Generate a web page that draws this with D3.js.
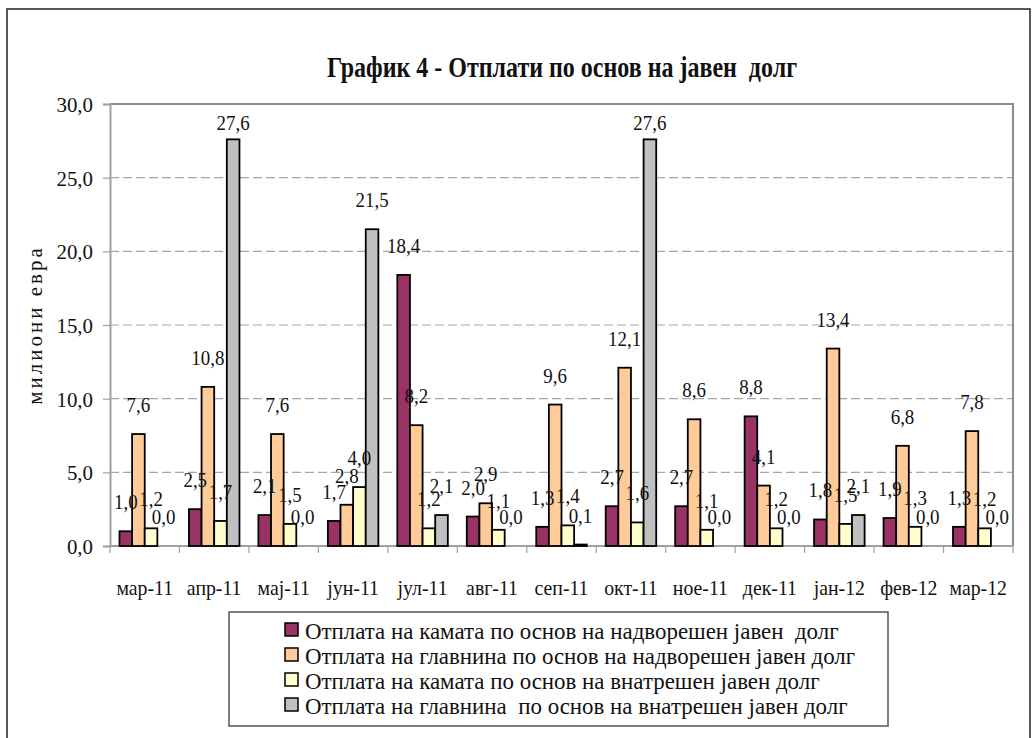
<!DOCTYPE html>
<html>
<head>
<meta charset="utf-8">
<script src="https://cdn.jsdelivr.net/npm/d3@7"></script>
<style>
  body { margin: 0; background: #fff; }
  text { font-family: "Liberation Serif", "Times New Roman", serif; fill: #111; white-space: pre; }
</style>
</head>
<body>
<div id="chart"></div>
<script>
// Data
const months = ["мар-11", "апр-11", "мај-11", "јун-11", "јул-11", "авг-11", "сеп-11",
  "окт-11", "ное-11", "дек-11", "јан-12", "фев-12", "мар-12"];
const seriesNames = [
  "Отплата на камата по основ на надворешен јавен  долг",
  "Отплата на главнина по основ на надворешен јавен долг",
  "Отплата на камата по основ на внатрешен јавен долг",
  "Отплата на главнина  по основ на внатрешен јавен долг"
];
const kamataNadv = [1.0, 2.5, 2.1, 1.7, 18.4, 2.0, 1.3, 2.7, 2.7, 8.8, 1.8, 1.9, 1.3];
const glavninaNadv = [7.6, 10.8, 7.6, 2.8, 8.2, 2.9, 9.6, 12.1, 8.6, 4.1, 13.4, 6.8, 7.8];
const kamataVnat = [1.2, 1.7, 1.5, 4.0, 1.2, 1.1, 1.4, 1.6, 1.1, 1.2, 1.5, 1.3, 1.2];
const glavninaVnat = [0.0, 27.6, 0.0, 21.5, 2.1, 0.0, 0.1, 27.6, 0.0, 0.0, 2.1, 0.0, 0.0];
const yTicks = [0, 5, 10, 15, 20, 25, 30];
const colors = ["#993366", "#FFCC99", "#FFFFCC", "#C0C0C0"];

const allSeries = [kamataNadv, glavninaNadv, kamataVnat, glavninaVnat];
const W = 1035, H = 738;
const plot = { left: 110, right: 1013, top: 104, bottom: 546 };

const svg = d3.select("#chart").append("svg")
  .attr("width", W).attr("height", H);

// condensed-looking text: scale horizontally around the anchor point
function addText(parent, x, y, str, size, sx, anchor, weight) {
  const g = parent.append("g").attr("transform", `translate(${x},${y}) scale(${sx},1)`);
  g.append("text")
    .attr("text-anchor", anchor || "middle")
    .style("font-size", size + "px")
    .style("font-weight", weight || "normal")
    .text(str);
  return g;
}

// outer chart border
svg.append("rect")
  .attr("x", 7).attr("y", 9).attr("width", 1023).attr("height", 760)
  .attr("fill", "none").attr("stroke", "#222").attr("stroke-width", 1.5);

// Scales
const x0 = d3.scaleBand().domain(months).range([plot.left, plot.right]);
const bw = x0.bandwidth() / 5.5;
const x1 = d3.scaleBand().domain(d3.range(4))
  .range([bw * 0.75, bw * 4.75]);
const y = d3.scaleLinear().domain([0, 30]).range([plot.bottom, plot.top]);

const fmt = v => d3.format(".1f")(v).replace(".", ",");

// gridlines
svg.append("g")
  .selectAll("line")
  .data(yTicks.filter(t => t > 0 && t < 30))
  .join("line")
  .attr("x1", plot.left).attr("x2", plot.right)
  .attr("y1", d => y(d)).attr("y2", d => y(d))
  .attr("stroke", "#a6a6a6").attr("stroke-width", 1.2)
  .attr("stroke-dasharray", "9,4");

// plot border top / right
svg.append("path")
  .attr("d", `M${plot.left},${plot.top}H${plot.right}V${plot.bottom}`)
  .attr("fill", "none").attr("stroke", "#8c8c8c").attr("stroke-width", 2);

// Y axis
const yAxis = svg.append("g")
  .attr("transform", `translate(${plot.left},0)`)
  .call(d3.axisLeft(y).tickValues(yTicks).tickSize(7).tickFormat(""));
yAxis.select(".domain").attr("stroke", "#a0a0a0").attr("stroke-width", 2);
yAxis.selectAll(".tick line").attr("stroke", "#a0a0a0").attr("stroke-width", 1.2);
yTicks.forEach(t => addText(svg, 93, y(t) + 8, fmt(t), 22, 0.95, "end"));

// X axis (ticks at category boundaries)
const xAxis = svg.append("g")
  .attr("transform", `translate(0,${plot.bottom})`);
xAxis.append("line")
  .attr("x1", plot.left).attr("x2", plot.right)
  .attr("stroke", "#a0a0a0").attr("stroke-width", 2);
xAxis.selectAll(".tk")
  .data(months.concat(["end"]))
  .join("line")
  .attr("class", "tk")
  .attr("x1", (d, i) => plot.left + i * x0.step())
  .attr("x2", (d, i) => plot.left + i * x0.step())
  .attr("y1", 0).attr("y2", 7)
  .attr("stroke", "#a0a0a0").attr("stroke-width", 1.2);
months.forEach(m => addText(svg, x0(m) + x0.bandwidth() / 2, 595, m, 22, 0.9, "middle"));

// Bars
const groups = svg.append("g")
  .selectAll("g")
  .data(months)
  .join("g")
  .attr("transform", d => `translate(${x0(d)},0)`);

groups.selectAll("rect")
  .data((m, i) => allSeries.map((s, k) => ({ k, v: s[i] })))
  .join("rect")
  .attr("x", d => x1(d.k))
  .attr("y", d => y(d.v))
  .attr("width", x1.bandwidth())
  .attr("height", d => y(0) - y(d.v))
  .attr("fill", d => colors[d.k])
  .attr("stroke", "#000")
  .attr("stroke-width", 1.8);

// Data labels
groups.each(function (m, i) {
  const g = d3.select(this);
  allSeries.forEach((s, k) => {
    const ly = Math.max(y(s[i]) - 22, 130);
    addText(g, x1(k) + x1.bandwidth() / 2, ly, fmt(s[i]), 22, 0.86, "middle");
  });
});

// Title
addText(svg, 562, 77, "График 4 - Отплати по основ на јавен  долг", 30, 0.8, "middle", "bold");

// Y axis title
svg.append("text")
  .attr("transform", "translate(42,325) rotate(-90)")
  .attr("text-anchor", "middle")
  .style("font-size", "21px")
  .style("letter-spacing", "3px")
  .text("милиони евра");

// Legend
const legend = svg.append("g");
legend.append("rect")
  .attr("x", 229).attr("y", 612).attr("width", 659).attr("height", 114)
  .attr("fill", "#fff").attr("stroke", "#555").attr("stroke-width", 1.5);
seriesNames.forEach((name, k) => {
  const by = 639 + k * 25;
  legend.append("rect")
    .attr("x", 285).attr("y", by - 16).attr("width", 13).attr("height", 13)
    .attr("fill", colors[k]).attr("stroke", "#000").attr("stroke-width", 1.5);
  addText(legend, 305, by, name, 24, 0.955, "start");
});
</script>
</body>
</html>
